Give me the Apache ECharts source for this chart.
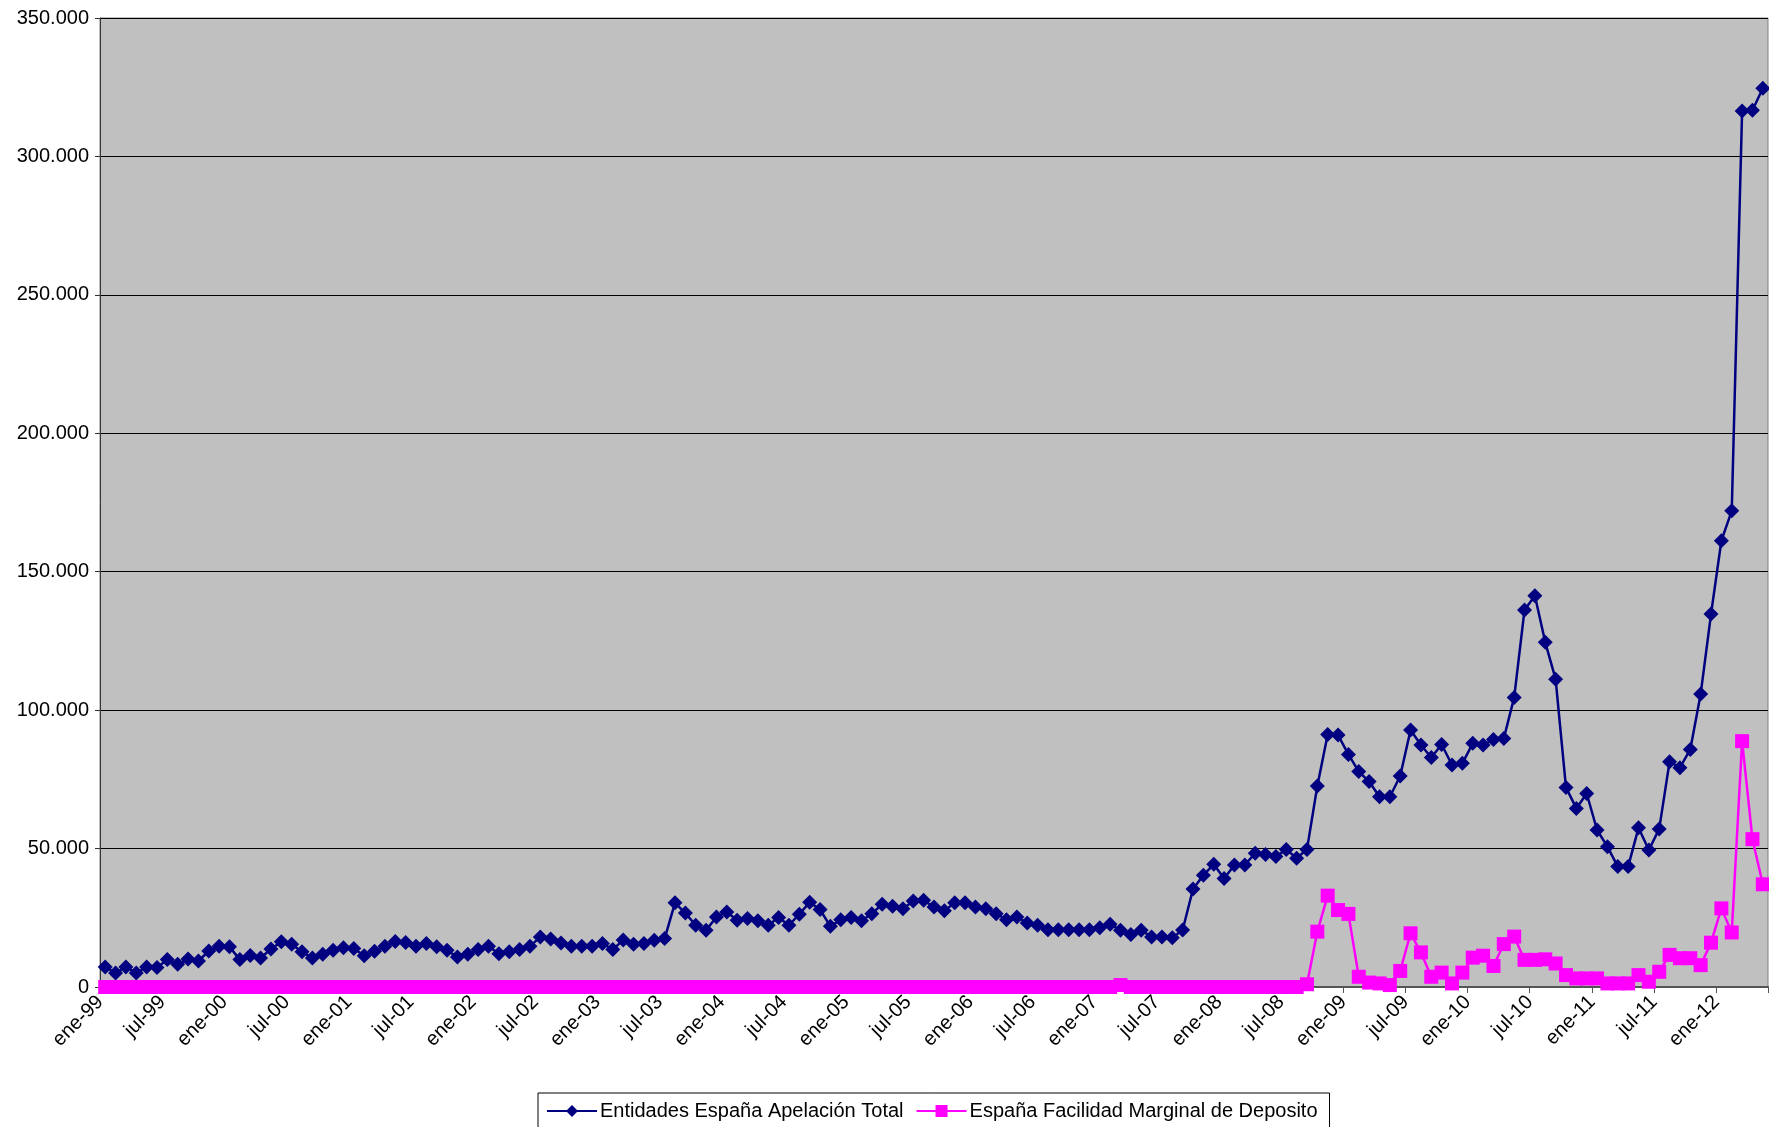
<!DOCTYPE html>
<html>
<head>
<meta charset="utf-8">
<title>Apelación Total vs Facilidad Marginal de Deposito</title>
<script src="https://cdn.jsdelivr.net/npm/echarts@6/dist/echarts.min.js"></script>
<style>
  html, body { margin: 0; padding: 0; background: #fff; }
  #chart { width: 1769px; height: 1127px; }
</style>
</head>
<body>
<div id="chart"></div>
<script>
// meses en castellano, las categorias van de ene-99 a may-12
var mesesNombres = ['ene', 'feb', 'mar', 'abr', 'may', 'jun', 'jul', 'ago', 'sep', 'oct', 'nov', 'dic'];
var anyoInicio = 1999;
var numMeses = 161;

// Entidades España Apelación Total
var apelacionTotal = [
  7200, 5100, 7200, 5100, 7200, 7000, 9900, 8200, 10100, 9400, 13000, 14700,
  14500, 9900, 11400, 10500, 13700, 16300, 15400, 12700, 10500, 11800, 13300, 14200,
  13900, 11300, 12900, 14700, 16400, 16100, 14700, 15700, 14500, 13300, 10800, 11800,
  13500, 14700, 12000, 12700, 13500, 14700, 18100, 17300, 15900, 14700, 14700, 14700,
  15700, 13500, 17000, 15400, 15700, 16900, 17500, 30400, 26700, 22300, 20500, 25300,
  27100, 24100, 24700, 23900, 22300, 25100, 22300, 26300, 30600, 28000, 21900, 24300,
  25100, 23900, 26500, 29900, 29200, 28300, 31100, 31300, 28900, 27500, 30400, 30400,
  28900, 28300, 26500, 24300, 25300, 23100, 22300, 20700, 20700, 20700, 20700, 20700,
  21400, 22700, 20500, 19000, 20500, 18100, 18100, 17800, 20600, 35400, 40400, 44300,
  39200, 44100, 44100, 48300, 47900, 47100, 49700, 46500, 49700, 72600, 91200, 91000,
  84000, 77800, 74200, 68700, 68700, 76200, 92800, 87400, 82900, 87600, 80200, 80800,
  88000, 87400, 89400, 89800, 104600, 136200, 141300, 124500, 111200, 72100, 64500, 69900,
  56700, 50700, 43500, 43500, 57500, 49500, 57100, 81400, 79200, 85800, 105800, 134700,
  161200, 172000, 316400, 316700, 324600
];

// España Facilidad Marginal de Deposito
var facilidadDeposito = [
  0, 0, 0, 0, 0, 0, 0, 0, 0, 0, 0, 0,
  0, 0, 0, 0, 0, 0, 0, 0, 0, 0, 0, 0,
  0, 0, 0, 0, 0, 0, 0, 0, 0, 0, 0, 0,
  0, 0, 0, 0, 0, 0, 0, 0, 0, 0, 0, 0,
  0, 0, 0, 0, 0, 0, 0, 0, 0, 0, 0, 0,
  0, 0, 0, 0, 0, 0, 0, 0, 0, 0, 0, 0,
  0, 0, 0, 0, 0, 0, 0, 0, 0, 0, 0, 0,
  0, 0, 0, 0, 0, 0, 0, 0, 0, 0, 0, 0,
  0, 0, 700, 0, 0, 0, 0, 0, 0, 0, 0, 0,
  0, 0, 0, 0, 0, 0, 0, 0, 1000, 20000, 33000, 27800,
  26400, 3700, 1600, 1300, 700, 5800, 19400, 12500, 3700, 5200, 1300, 5200,
  10600, 11300, 7600, 15500, 18200, 9800, 9800, 10000, 8500, 4300, 3100, 3100,
  3100, 1300, 1300, 1300, 4300, 1900, 5500, 11600, 10400, 10400, 7900, 16000,
  28400, 19700, 88800, 53400, 37100
];

// etiquetas del eje Y
var ejeYMax = 350000;
var ejeYPaso = 50000;

// construir categorias ene-99, feb-99 ...
var categorias = [];
for (var i = 0; i < numMeses; i++) {
  var anyo = anyoInicio + Math.floor(i / 12);
  categorias.push(mesesNombres[i % 12] + '-' + String(anyo).slice(2));
}

// separador de miles con punto
function formatoMiles(v) {
  return String(v).replace(/\B(?=(\d{3})+(?!\d))/g, '.');
}

var fuente = 'Liberation Sans, Arial, sans-serif';
var myChart = echarts.init(document.getElementById('chart'));

myChart.setOption({
  animation: false,
  backgroundColor: '#ffffff',
  textStyle: { fontFamily: fuente },
  grid: {
    left: 100,
    right: 1,
    top: 18,
    bottom: 140,
    show: true,
    backgroundColor: '#c0c0c0',
    borderColor: '#808080',
    borderWidth: 1
  },
  // leyenda abajo con recuadro negro
  legend: {
    left: 538,
    top: 1093,
    padding: [8, 12, 7, 8],
    itemGap: 12,
    itemWidth: 50,
    itemHeight: 15,
    borderColor: '#000',
    borderWidth: 1,
    backgroundColor: '#fff',
    textStyle: { fontSize: 20, color: '#000', fontFamily: fuente, padding: [0, 0, 0, -2] },
    data: ['Entidades España Apelación Total', 'España Facilidad Marginal de Deposito']
  },
  xAxis: {
    type: 'category',
    data: categorias,
    boundaryGap: true,
    axisLine: { lineStyle: { color: '#555', width: 2 } },
    axisTick: { show: true, interval: 5, length: 6, lineStyle: { color: '#555' } },
    axisLabel: {
      interval: 5,
      rotate: 45,
      margin: 7,
      padding: [0, 7, 0, 0],
      fontSize: 20,
      color: '#000',
      fontFamily: fuente
    },
    splitLine: { show: false }
  },
  yAxis: {
    type: 'value',
    min: 0,
    max: ejeYMax,
    interval: ejeYPaso,
    axisLine: { show: true, lineStyle: { color: '#333', width: 1 } },
    axisTick: { show: true, length: 5, lineStyle: { color: '#333' } },
    axisLabel: {
      margin: 11,
      fontSize: 20,
      color: '#000',
      fontFamily: fuente,
      formatter: formatoMiles
    },
    splitLine: { show: true, lineStyle: { color: '#000', width: 1 } }
  },
  series: [
    {
      name: 'Entidades España Apelación Total',
      type: 'line',
      data: apelacionTotal,
      symbol: 'diamond',
      symbolSize: 15,
      showAllSymbol: true,
      clip: false,
      color: '#000080',
      lineStyle: { color: '#000080', width: 2.5 },
      itemStyle: { color: '#000080' }
    },
    {
      name: 'España Facilidad Marginal de Deposito',
      type: 'line',
      data: facilidadDeposito,
      symbol: 'rect',
      symbolSize: 14,
      showAllSymbol: true,
      clip: false,
      color: '#ff00ff',
      lineStyle: { color: '#ff00ff', width: 2.5 },
      itemStyle: { color: '#ff00ff' }
    }
  ]
});
</script>
</body>
</html>
